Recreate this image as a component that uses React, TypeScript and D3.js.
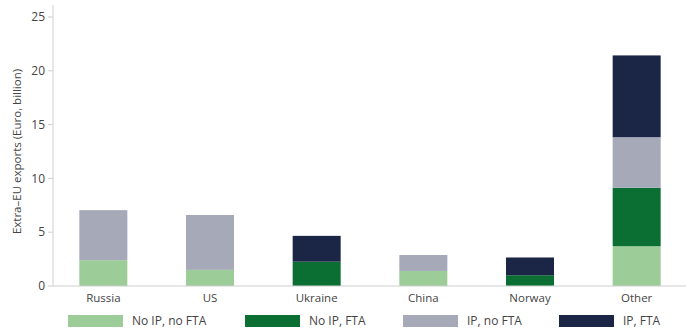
import React from 'react'
import * as d3 from 'd3'

const countries = ['Russia', 'US', 'Ukraine', 'China', 'Norway', 'Other']
const seriesNames = ['No IP, no FTA', 'No IP, FTA', 'IP, no FTA', 'IP, FTA']
const noIpNoFta = [2.4, 1.5, 0, 1.4, 0, 3.7]
const noIpFta = [0, 0, 2.26, 0, 1.0, 5.43]
const ipNoFta = [4.65, 5.1, 0, 1.48, 0, 4.7]
const ipFta = [0, 0, 2.4, 0, 1.65, 7.6]
const colors = ['#9ccc98', '#0b6e33', '#a5a9b8', '#1b2646']
const yTicks = [0, 5, 10, 15, 20, 25]

const W = 693
const H = 333
// legend swatch left edges
const legendX = [68, 245, 403, 559]

export default function App() {
  const rows = countries.map((c, i) => ({
    country: c,
    s0: noIpNoFta[i],
    s1: noIpFta[i],
    s2: ipNoFta[i],
    s3: ipFta[i],
  }))
  const stack = d3.stack<any>().keys(['s0', 's1', 's2', 's3'])(rows)

  const x = d3.scaleBand().domain(countries).range([50, 690]).paddingInner(0.55).paddingOuter(0.275)
  const y = d3.scaleLinear().domain([0, 25]).range([286, 17])

  const font = "'Open Sans', sans-serif"
  const textColor = '#444'
  const axisColor = '#cfcfcf'

  return (
    <svg width={W} height={H} style={{ position: 'absolute', left: 0, top: 0, fontFamily: font }}>
      {/* bars */}
      {stack.map((layer, k) => (
        <g key={k} fill={colors[k]}>
          {layer.map((d, i) => d[1] - d[0] > 0 && (
            <rect key={i} x={x(countries[i])} width={x.bandwidth()}
              y={y(d[1])} height={y(d[0]) - y(d[1])} />
          ))}
        </g>
      ))}

      {/* y axis */}
      <line x1={53} x2={53} y1={5} y2={286} stroke={axisColor} />
      {yTicks.map(t => (
        <g key={t} transform={`translate(0, ${y(t)})`}>
          <line x1={48} x2={53} stroke={axisColor} />
          <text x={45} dy="0.35em" textAnchor="end" fontSize={12} fill={textColor}>{t}</text>
        </g>
      ))}
      <text transform={`translate(21, ${(y(0) + y(25)) / 2}) rotate(-90)`} textAnchor="middle"
        fontSize={11.5} fill={textColor}>Extra–EU exports (Euro, billion)</text>

      {/* x axis */}
      <line x1={53} x2={686} y1={286} y2={286} stroke={axisColor} />
      {countries.map(c => (
        <text key={c} x={(x(c) ?? 0) + x.bandwidth() / 2} y={302} textAnchor="middle"
          fontSize={11.5} fill={textColor}>{c}</text>
      ))}

      {/* legend */}
      {seriesNames.map((n, i) => (
        <g key={n} transform={`translate(${legendX[i]}, 315)`}>
          <rect width={55} height={12} fill={colors[i]} />
          <text x={64} y={10} fontSize={12} fill={textColor}>{n}</text>
        </g>
      ))}
    </svg>
  )
}
